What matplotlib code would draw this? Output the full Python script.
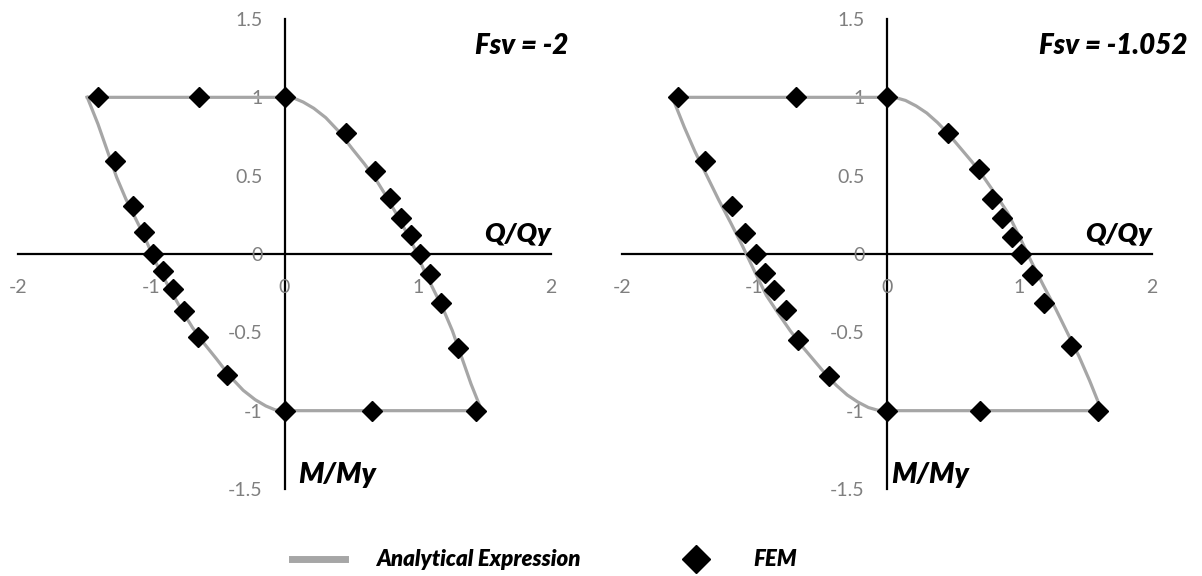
import matplotlib
matplotlib.use("Agg")
import matplotlib.pyplot as plt
from matplotlib.lines import Line2D

# ---------------- data ----------------
titles = ["Fsv = -2", "Fsv = -1.052"]
x_ticks = [-2, -1, 0, 1, 2]
y_ticks = [-1.5, -1, -0.5, 0, 0.5, 1, 1.5]
x_tick_labels = ["-2", "-1", "0", "1", "2"]
y_tick_labels = ["-1.5", "-1", "-0.5", "0", "0.5", "1", "1.5"]

# Analytical expression, panel 1 (closed loop)
ana1_x = [-1.48, 0, 0.07, 0.14, 0.22, 0.31, 0.41, 0.51, 0.60, 0.69, 0.77, 0.85, 0.92, 0.98, 1.05, 1.12, 1.19, 1.26, 1.33, 1.40, 1.48,
          0, -0.07, -0.14, -0.22, -0.31, -0.41, -0.51, -0.60, -0.69, -0.77, -0.85, -0.92, -0.98, -1.05, -1.12, -1.19, -1.26, -1.33, -1.40, -1.48]
ana1_y = [1.0, 1.0, 0.995, 0.97, 0.93, 0.87, 0.78, 0.67, 0.575, 0.47, 0.36, 0.24, 0.13, 0.03, -0.11, -0.23, -0.35, -0.49, -0.66, -0.83, -1.0,
          -1.0, -0.995, -0.97, -0.93, -0.87, -0.78, -0.67, -0.575, -0.47, -0.36, -0.24, -0.13, -0.03, 0.11, 0.23, 0.35, 0.49, 0.66, 0.83, 1.0]

# Analytical expression, panel 2 (closed loop)
ana2_x = [-1.62, 0, 0.07, 0.14, 0.22, 0.30, 0.38, 0.46, 0.55, 0.64, 0.73, 0.82, 0.91, 1.00, 1.09, 1.18, 1.27, 1.36, 1.45, 1.53, 1.62,
          0, -0.07, -0.14, -0.22, -0.30, -0.38, -0.46, -0.55, -0.64, -0.73, -0.82, -0.91, -1.00, -1.09, -1.18, -1.27, -1.36, -1.45, -1.53, -1.62]
ana2_y = [1.0, 1.0, 0.997, 0.98, 0.945, 0.90, 0.84, 0.77, 0.68, 0.59, 0.49, 0.38, 0.265, 0.11, -0.05, -0.20, -0.345, -0.50, -0.655, -0.81, -1.0,
          -1.0, -0.997, -0.98, -0.945, -0.90, -0.84, -0.77, -0.68, -0.59, -0.49, -0.38, -0.265, -0.11, 0.05, 0.20, 0.345, 0.50, 0.655, 0.81, 1.0]

# FEM results, panel 1
fem1_x = [-1.40, -0.64, 0, 0.464, 0.677, 0.79, 0.873, 0.95, 1.02, 1.095, 1.175, 1.305, 1.435, 0.66, 0,
          -1.274, -1.138, -1.058, -0.986, -0.914, -0.84, -0.755, -0.646, -0.43]
fem1_y = [1, 1, 1, 0.77, 0.53, 0.36, 0.23, 0.12, 0, -0.13, -0.31, -0.60, -1, -1, -1,
          0.595, 0.306, 0.14, 0, -0.107, -0.225, -0.364, -0.529, -0.771]

# FEM results, panel 2
fem2_x = [-1.58, -0.69, 0, 0.458, 0.696, 0.79, 0.87, 0.942, 1.014, 1.093, 1.183, 1.39, 1.59, 0.70, 0,
          -1.371, -1.168, -1.072, -0.99, -0.92, -0.855, -0.762, -0.675, -0.44]
fem2_y = [1, 1, 1, 0.775, 0.54, 0.35, 0.228, 0.106, 0, -0.134, -0.31, -0.59, -1, -1, -1,
          0.594, 0.306, 0.132, 0, -0.12, -0.23, -0.36, -0.55, -0.776]

series_labels = ["Analytical Expression", "FEM"]

# ---------------- style ----------------
FONT = "Lato"
plt.rcParams["font.family"] = [FONT, "DejaVu Sans"]
LINE_C = "#a6a6a6"
TICK_C = "#7f7f7f"
BOLD = "heavy"

fig = plt.figure(figsize=(12.02, 5.76), dpi=100)
ax1 = fig.add_axes([18 / 1202, 87 / 576, 533 / 1202, 470 / 576])
ax2 = fig.add_axes([622 / 1202, 87 / 576, 530 / 1202, 470 / 576])

panels = [
    (ax1, ana1_x, ana1_y, fem1_x, fem1_y, titles[0], 0.10, 2.13),
    (ax2, ana2_x, ana2_y, fem2_x, fem2_y, titles[1], 0.03, 2.27),
]

for ax, ax_x, ax_y, fx, fy, title, mx, tx in panels:
    ax.set_xlim(-2, 2)
    ax.set_ylim(-1.5, 1.5)
    ax.patch.set_alpha(0)
    for s in ["top", "right"]:
        ax.spines[s].set_visible(False)
    ax.spines["left"].set_position(("data", 0))
    ax.spines["bottom"].set_position(("data", 0))
    for s in ["left", "bottom"]:
        ax.spines[s].set_linewidth(1.6)
        ax.spines[s].set_color("black")
        ax.spines[s].set_zorder(1)
    ax.set_xticks(x_ticks)
    ax.set_xticklabels(x_tick_labels)
    ax.set_yticks(y_ticks)
    ax.set_yticklabels(y_tick_labels)
    ax.tick_params(axis="both", length=0, labelsize=14, labelcolor=TICK_C)
    ax.tick_params(axis="x", pad=18)
    ax.tick_params(axis="y", pad=16)

    ax.plot(ax_x, ax_y, color=LINE_C, lw=2.3, zorder=2, clip_on=False,
            solid_joinstyle="round")
    ax.plot(fx, fy, linestyle="none", marker="D", markersize=10.5,
            color="black", zorder=3, clip_on=False)

    ax.text(tx, 1.33, title, ha="right", va="center",
            fontsize=20, fontweight=BOLD, fontstyle="italic", clip_on=False)
    ax.text(2.0, 0.05, "Q/Qy", ha="right", va="bottom",
            fontsize=19.5, fontweight=BOLD, fontstyle="italic")
    ax.text(mx, -1.41, "M/My", ha="left", va="center",
            fontsize=20.5, fontweight=BOLD, fontstyle="italic")

handles = [
    Line2D([], [], color=LINE_C, lw=5),
    Line2D([], [], linestyle="none", marker="D", markersize=14, color="black"),
]
leg = fig.legend(handles, series_labels, loc="center", bbox_to_anchor=(0.453, 0.028),
                 ncol=2, frameon=False, handlelength=2.4, columnspacing=4.0,
                 handletextpad=1.4,
                 prop={"family": FONT, "size": 16, "weight": BOLD, "style": "italic"})

fig.savefig("out.png", dpi=100)
